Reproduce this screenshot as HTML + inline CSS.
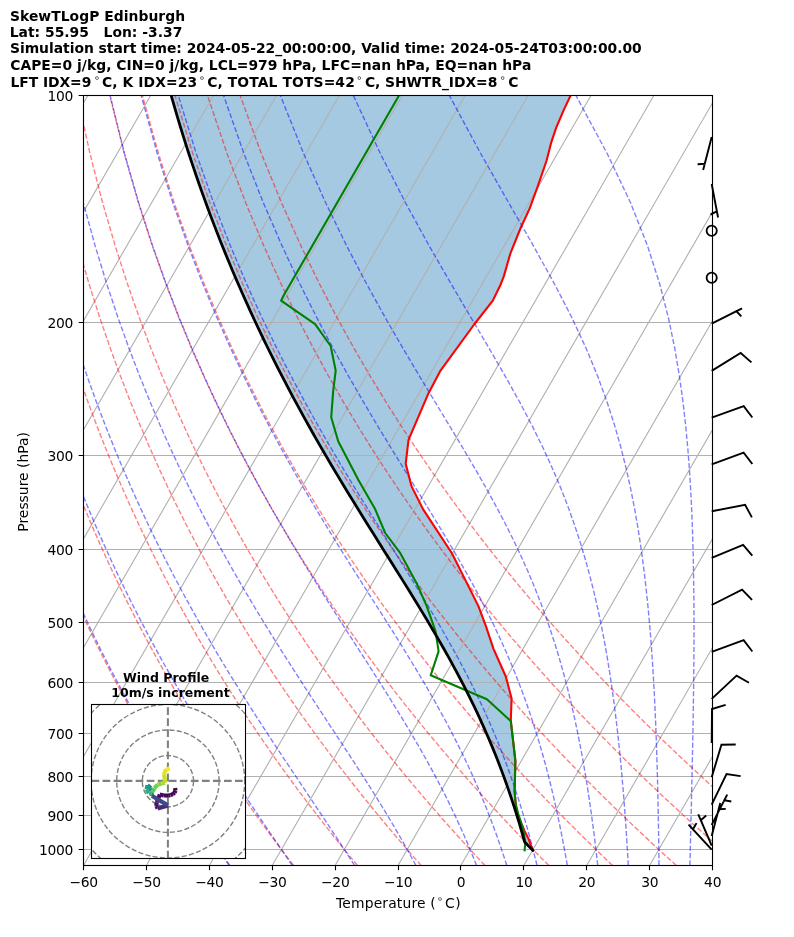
<!DOCTYPE html>
<html><head><meta charset="utf-8"><title>SkewTLogP Edinburgh</title>
<style>html,body{margin:0;padding:0;background:#fff}svg{display:block}</style></head>
<body>
<svg width="794" height="937" viewBox="0 0 794 937" style="display:block">
<defs><clipPath id="ax"><rect x="83.5" y="95.5" width="629.0" height="770.0"/></clipPath>
<clipPath id="hd"><rect x="91.5" y="704.5" width="154.0" height="154.0"/></clipPath></defs>
<rect width="794" height="937" fill="#fff"/>
<g clip-path="url(#ax)" fill="none">
<path d="M166.6 78.7 L169.23 88.37 L171.93 98.03 L174.7 107.69 L177.54 117.35 L180.45 127.01 L183.43 136.68 L186.49 146.34 L189.61 156 L192.82 165.66 L196.09 175.32 L199.44 184.98 L202.87 194.65 L206.37 204.31 L209.95 213.97 L213.61 223.63 L217.34 233.29 L221.16 242.96 L225.05 252.62 L229.02 262.28 L233.08 271.94 L237.21 281.6 L241.43 291.27 L245.72 300.93 L250.1 310.59 L254.57 320.25 L259.11 329.91 L263.74 339.58 L268.46 349.24 L273.26 358.9 L278.14 368.56 L283.11 378.22 L288.16 387.89 L293.29 397.55 L298.51 407.21 L303.8 416.87 L309.18 426.53 L314.64 436.2 L320.17 445.86 L325.78 455.52 L331.46 465.18 L337.21 474.84 L343.02 484.51 L348.89 494.17 L354.81 503.83 L360.78 513.49 L366.79 523.15 L372.83 532.82 L378.89 542.48 L384.97 552.14 L391.05 561.8 L397.11 571.46 L403.16 581.13 L409.17 590.79 L415.13 600.45 L421.04 610.11 L426.87 619.77 L432.62 629.44 L438.27 639.1 L443.81 648.76 L449.23 658.42 L454.53 668.08 L459.69 677.75 L464.7 687.41 L469.57 697.07 L474.29 706.73 L478.86 716.39 L483.27 726.06 L487.52 735.72 L491.62 745.38 L495.56 755.04 L499.35 764.7 L502.99 774.37 L506.49 784.03 L509.85 793.69 L513.06 803.35 L516.15 813.01 L519.1 822.68 L521.93 832.34 L524.64 842 L532.8 850.4 L532.8 850.4 L528.8 839.4 L524.4 830.6 L516.4 811.3 L514.6 791.1 L515.4 760.9 L510.8 720.6 L511.6 698.4 L505.8 676.5 L493.5 648.9 L485.9 626.2 L478.4 606.1 L465.8 580.9 L451.9 553.2 L423 509.1 L411.6 486.4 L405.7 463.8 L408.5 439.9 L427.9 394.6 L440.5 370.6 L474.5 324 L492.8 300.6 L500.4 285 L503.8 276.4 L510.3 253.7 L520.4 228.5 L529.7 208.4 L538 185.7 L546.6 160.5 L551.1 142.9 L556.2 127.7 L563.7 110.1 L570.8 95 L575.5 85Z" fill="#1f77b4" fill-opacity="0.4" stroke="none"/>
<path d="M-419.7 865.5 L24.86 95.5 M-356.8 865.5 L87.76 95.5 M-293.9 865.5 L150.66 95.5 M-231 865.5 L213.56 95.5 M-168.1 865.5 L276.46 95.5 M-105.2 865.5 L339.36 95.5 M-42.3 865.5 L402.26 95.5 M20.6 865.5 L465.16 95.5 M83.5 865.5 L528.06 95.5 M146.4 865.5 L590.96 95.5 M209.3 865.5 L653.86 95.5 M272.2 865.5 L716.76 95.5 M335.1 865.5 L779.66 95.5 M398 865.5 L842.56 95.5 M460.9 865.5 L905.46 95.5 M523.8 865.5 L968.36 95.5 M586.7 865.5 L1031.26 95.5 M649.6 865.5 L1094.16 95.5 M712.5 865.5 L1157.06 95.5" stroke="#b0b0b0" stroke-width="1.11"/>
<path d="M83.5 322.5 L712.5 322.5 M83.5 455.5 L712.5 455.5 M83.5 549.5 L712.5 549.5 M83.5 622.5 L712.5 622.5 M83.5 682.5 L712.5 682.5 M83.5 733.5 L712.5 733.5 M83.5 776.5 L712.5 776.5 M83.5 815.5 L712.5 815.5 M83.5 849.5 L712.5 849.5" stroke="#b0b0b0" stroke-width="1.11"/>
<path d="M229.89 865.5 L225.51 859.4 L221.1 853.18 L216.64 846.84 L212.15 840.37 L207.61 833.78 L203.02 827.05 L198.4 820.18 L193.72 813.16 L189 805.99 L184.23 798.65 L179.41 791.15 L174.54 783.48 L169.61 775.61 L164.63 767.56 L159.6 759.3 L154.51 750.83 L149.36 742.13 L144.15 733.2 L138.88 724.02 L133.54 714.57 L128.14 704.84 L122.67 694.81 L117.13 684.46 L111.51 673.78 L105.83 662.74 L100.06 651.31 L94.22 639.47 L88.3 627.18 L82.29 614.42 L76.19 601.14 L70.01 587.29 L63.73 572.84 L57.37 557.72 L50.9 541.86 L44.34 525.2 L37.68 507.64 L30.91 489.09 L24.05 469.43 L17.09 448.51 L10.04 426.16 L2.89 402.17 L-4.33 376.29 L-11.61 348.18 L-18.92 317.43 L-26.23 283.5 L-33.45 245.63 L-40.48 202.81 L-47.13 153.53 L-53.08 95.5 M293.67 865.5 L288.96 859.4 L284.2 853.18 L279.4 846.84 L274.55 840.37 L269.65 833.78 L264.7 827.05 L259.71 820.18 L254.66 813.16 L249.55 805.99 L244.4 798.65 L239.18 791.15 L233.91 783.48 L228.58 775.61 L223.19 767.56 L217.74 759.3 L212.22 750.83 L206.63 742.13 L200.98 733.2 L195.25 724.02 L189.45 714.57 L183.58 704.84 L177.63 694.81 L171.59 684.46 L165.47 673.78 L159.27 662.74 L152.97 651.31 L146.59 639.47 L140.11 627.18 L133.52 614.42 L126.84 601.14 L120.05 587.29 L113.14 572.84 L106.13 557.72 L98.99 541.86 L91.74 525.2 L84.35 507.64 L76.84 489.09 L69.2 469.43 L61.42 448.51 L53.51 426.16 L45.47 402.17 L37.29 376.29 L29 348.18 L20.62 317.43 L12.16 283.5 L3.69 245.63 L-4.7 202.81 L-12.86 153.53 L-20.5 95.5 M357.45 865.5 L352.4 859.4 L347.3 853.18 L342.15 846.84 L336.95 840.37 L331.69 833.78 L326.38 827.05 L321.02 820.18 L315.59 813.16 L310.11 805.99 L304.57 798.65 L298.96 791.15 L293.29 783.48 L287.56 775.61 L281.75 767.56 L275.88 759.3 L269.93 750.83 L263.91 742.13 L257.81 733.2 L251.63 724.02 L245.37 714.57 L239.02 704.84 L232.58 694.81 L226.05 684.46 L219.43 673.78 L212.71 662.74 L205.89 651.31 L198.95 639.47 L191.91 627.18 L184.76 614.42 L177.48 601.14 L170.08 587.29 L162.55 572.84 L154.89 557.72 L147.08 541.86 L139.13 525.2 L131.03 507.64 L122.77 489.09 L114.35 469.43 L105.75 448.51 L96.98 426.16 L88.04 402.17 L78.92 376.29 L69.62 348.18 L60.16 317.43 L50.55 283.5 L40.83 245.63 L31.07 202.81 L21.41 153.53 L12.08 95.5 M421.24 865.5 L415.85 859.4 L410.4 853.18 L404.9 846.84 L399.35 840.37 L393.73 833.78 L388.06 827.05 L382.33 820.18 L376.53 813.16 L370.67 805.99 L364.74 798.65 L358.74 791.15 L352.67 783.48 L346.53 775.61 L340.31 767.56 L334.02 759.3 L327.64 750.83 L321.18 742.13 L314.64 733.2 L308 724.02 L301.28 714.57 L294.46 704.84 L287.54 694.81 L280.52 684.46 L273.39 673.78 L266.15 662.74 L258.8 651.31 L251.32 639.47 L243.72 627.18 L235.99 614.42 L228.13 601.14 L220.12 587.29 L211.96 572.84 L203.65 557.72 L195.18 541.86 L186.53 525.2 L177.71 507.64 L168.7 489.09 L159.49 469.43 L150.08 448.51 L140.46 426.16 L130.61 402.17 L120.54 376.29 L110.23 348.18 L99.69 317.43 L88.93 283.5 L77.97 245.63 L66.85 202.81 L55.68 153.53 L44.66 95.5 M485.02 865.5 L479.29 859.4 L473.5 853.18 L467.66 846.84 L461.75 840.37 L455.78 833.78 L449.74 827.05 L443.64 820.18 L437.46 813.16 L431.22 805.99 L424.91 798.65 L418.52 791.15 L412.05 783.48 L405.5 775.61 L398.87 767.56 L392.15 759.3 L385.35 750.83 L378.46 742.13 L371.47 733.2 L364.38 724.02 L357.19 714.57 L349.9 704.84 L342.5 694.81 L334.98 684.46 L327.35 673.78 L319.59 662.74 L311.71 651.31 L303.69 639.47 L295.53 627.18 L287.23 614.42 L278.77 601.14 L270.16 587.29 L261.37 572.84 L252.41 557.72 L243.27 541.86 L233.93 525.2 L224.39 507.64 L214.63 489.09 L204.64 469.43 L194.41 448.51 L183.93 426.16 L173.19 402.17 L162.16 376.29 L150.85 348.18 L139.23 317.43 L127.32 283.5 L115.11 245.63 L102.63 202.81 L89.95 153.53 L77.24 95.5 M548.8 865.5 L542.73 859.4 L536.6 853.18 L530.41 846.84 L524.15 840.37 L517.82 833.78 L511.42 827.05 L504.95 820.18 L498.4 813.16 L491.78 805.99 L485.08 798.65 L478.29 791.15 L471.43 783.48 L464.47 775.61 L457.43 767.56 L450.29 759.3 L443.06 750.83 L435.73 742.13 L428.3 733.2 L420.76 724.02 L413.11 714.57 L405.34 704.84 L397.45 694.81 L389.45 684.46 L381.31 673.78 L373.03 662.74 L364.62 651.31 L356.06 639.47 L347.34 627.18 L338.46 614.42 L329.42 601.14 L320.19 587.29 L310.78 572.84 L301.17 557.72 L291.36 541.86 L281.33 525.2 L271.06 507.64 L260.55 489.09 L249.79 469.43 L238.74 448.51 L227.41 426.16 L215.76 402.17 L203.79 376.29 L191.46 348.18 L178.77 317.43 L165.7 283.5 L152.24 245.63 L138.4 202.81 L124.22 153.53 L109.82 95.5 M612.58 865.5 L606.18 859.4 L599.7 853.18 L593.16 846.84 L586.55 840.37 L579.86 833.78 L573.1 827.05 L566.26 820.18 L559.34 813.16 L552.33 805.99 L545.24 798.65 L538.07 791.15 L530.8 783.48 L523.44 775.61 L515.99 767.56 L508.43 759.3 L500.77 750.83 L493 742.13 L485.13 733.2 L477.13 724.02 L469.02 714.57 L460.78 704.84 L452.41 694.81 L443.91 684.46 L435.26 673.78 L426.47 662.74 L417.53 651.31 L408.42 639.47 L399.15 627.18 L389.7 614.42 L380.06 601.14 L370.23 587.29 L360.19 572.84 L349.94 557.72 L339.45 541.86 L328.72 525.2 L317.74 507.64 L306.48 489.09 L294.93 469.43 L283.07 448.51 L270.88 426.16 L258.33 402.17 L245.41 376.29 L232.08 348.18 L218.31 317.43 L204.09 283.5 L189.38 245.63 L174.18 202.81 L158.49 153.53 L142.4 95.5 M676.37 865.5 L669.62 859.4 L662.8 853.18 L655.91 846.84 L648.95 840.37 L641.9 833.78 L634.77 827.05 L627.57 820.18 L620.27 813.16 L612.89 805.99 L605.41 798.65 L597.85 791.15 L590.18 783.48 L582.42 775.61 L574.55 767.56 L566.57 759.3 L558.48 750.83 L550.28 742.13 L541.96 733.2 L533.51 724.02 L524.93 714.57 L516.22 704.84 L507.37 694.81 L498.37 684.46 L489.22 673.78 L479.91 662.74 L470.44 651.31 L460.79 639.47 L450.96 627.18 L440.93 614.42 L430.71 601.14 L420.27 587.29 L409.6 572.84 L398.7 557.72 L387.54 541.86 L376.12 525.2 L364.42 507.64 L352.41 489.09 L340.08 469.43 L327.4 448.51 L314.35 426.16 L300.91 402.17 L287.03 376.29 L272.69 348.18 L257.85 317.43 L242.48 283.5 L226.52 245.63 L209.96 202.81 L192.76 153.53 L174.98 95.5 M740.15 865.5 L733.07 859.4 L725.91 853.18 L718.67 846.84 L711.35 840.37 L703.94 833.78 L696.45 827.05 L688.88 820.18 L681.21 813.16 L673.44 805.99 L665.58 798.65 L657.62 791.15 L649.56 783.48 L641.39 775.61 L633.11 767.56 L624.71 759.3 L616.19 750.83 L607.55 742.13 L598.79 733.2 L589.88 724.02 L580.84 714.57 L571.66 704.84 L562.33 694.81 L552.84 684.46 L543.18 673.78 L533.36 662.74 L523.35 651.31 L513.16 639.47 L502.77 627.18 L492.17 614.42 L481.35 601.14 L470.3 587.29 L459.01 572.84 L447.46 557.72 L435.64 541.86 L423.52 525.2 L411.09 507.64 L398.34 489.09 L385.23 469.43 L371.73 448.51 L357.83 426.16 L343.48 402.17 L328.65 376.29 L313.31 348.18 L297.39 317.43 L280.86 283.5 L263.66 245.63 L245.73 202.81 L227.03 153.53 L207.55 95.5 M803.93 865.5 L796.51 859.4 L789.01 853.18 L781.42 846.84 L773.75 840.37 L765.98 833.78 L758.13 827.05 L750.19 820.18 L742.14 813.16 L734 805.99 L725.75 798.65 L717.4 791.15 L708.94 783.48 L700.36 775.61 L691.66 767.56 L682.85 759.3 L673.9 750.83 L664.83 742.13 L655.61 733.2 L646.26 724.02 L636.76 714.57 L627.1 704.84 L617.28 694.81 L607.3 684.46 L597.14 673.78 L586.8 662.74 L576.26 651.31 L565.52 639.47 L554.57 627.18 L543.4 614.42 L531.99 601.14 L520.34 587.29 L508.42 572.84 L496.22 557.72 L483.73 541.86 L470.92 525.2 L457.77 507.64 L444.27 489.09 L430.37 469.43 L416.06 448.51 L401.3 426.16 L386.06 402.17 L370.28 376.29 L353.92 348.18 L336.93 317.43 L319.25 283.5 L300.8 245.63 L281.51 202.81 L261.31 153.53 L240.13 95.5" stroke="#ff0000" stroke-opacity="0.5" stroke-width="1.39" stroke-dasharray="5.14 2.22"/>
<path d="M229.32 865.5 L225.18 859.4 L220.98 853.18 L216.72 846.84 L212.41 840.37 L208.03 833.78 L203.6 827.05 L199.1 820.18 L194.55 813.16 L189.94 805.99 L185.26 798.65 L180.53 791.15 L175.73 783.48 L170.87 775.61 L165.94 767.56 L160.96 759.3 L155.9 750.83 L150.79 742.13 L145.6 733.2 L140.35 724.02 L135.03 714.57 L129.64 704.84 L124.17 694.81 L118.63 684.46 L113.02 673.78 L107.33 662.74 L101.56 651.31 L95.71 639.47 L89.77 627.18 L83.75 614.42 L77.64 601.14 L71.45 587.29 L65.15 572.84 L58.77 557.72 L52.29 541.86 L45.7 525.2 L39.02 507.64 L32.24 489.09 L25.35 469.43 L18.37 448.51 L11.29 426.16 L4.12 402.17 L-3.13 376.29 L-10.44 348.18 L-17.78 317.43 L-25.12 283.5 L-32.38 245.63 L-39.45 202.81 L-46.14 153.53 L-52.14 95.5 M292.3 865.5 L288.15 859.4 L283.91 853.18 L279.6 846.84 L275.2 840.37 L270.71 833.78 L266.15 827.05 L261.5 820.18 L256.77 813.16 L251.96 805.99 L247.06 798.65 L242.08 791.15 L237.02 783.48 L231.87 775.61 L226.64 767.56 L221.32 759.3 L215.92 750.83 L210.43 742.13 L204.86 733.2 L199.2 724.02 L193.45 714.57 L187.61 704.84 L181.69 694.81 L175.67 684.46 L169.56 673.78 L163.35 662.74 L157.04 651.31 L150.64 639.47 L144.13 627.18 L137.52 614.42 L130.8 601.14 L123.97 587.29 L117.03 572.84 L109.97 557.72 L102.78 541.86 L95.47 525.2 L88.04 507.64 L80.47 489.09 L72.76 469.43 L64.92 448.51 L56.94 426.16 L48.83 402.17 L40.58 376.29 L32.21 348.18 L23.74 317.43 L15.19 283.5 L6.62 245.63 L-1.88 202.81 L-10.16 153.53 L-17.93 95.5 M354.57 865.5 L350.68 859.4 L346.69 853.18 L342.58 846.84 L338.37 840.37 L334.05 833.78 L329.61 827.05 L325.05 820.18 L320.38 813.16 L315.59 805.99 L310.69 798.65 L305.67 791.15 L300.53 783.48 L295.27 775.61 L289.89 767.56 L284.39 759.3 L278.77 750.83 L273.03 742.13 L267.18 733.2 L261.2 724.02 L255.1 714.57 L248.89 704.84 L242.55 694.81 L236.09 684.46 L229.51 673.78 L222.81 662.74 L215.98 651.31 L209.03 639.47 L201.94 627.18 L194.73 614.42 L187.38 601.14 L179.9 587.29 L172.27 572.84 L164.5 557.72 L156.58 541.86 L148.5 525.2 L140.26 507.64 L131.86 489.09 L123.28 469.43 L114.53 448.51 L105.59 426.16 L96.47 402.17 L87.16 376.29 L77.66 348.18 L67.99 317.43 L58.15 283.5 L48.18 245.63 L38.16 202.81 L28.2 153.53 L18.53 95.5 M415.94 865.5 L412.65 859.4 L409.25 853.18 L405.72 846.84 L402.07 840.37 L398.28 833.78 L394.35 827.05 L390.29 820.18 L386.07 813.16 L381.7 805.99 L377.19 798.65 L372.51 791.15 L367.67 783.48 L362.66 775.61 L357.49 767.56 L352.15 759.3 L346.63 750.83 L340.94 742.13 L335.08 733.2 L329.04 724.02 L322.83 714.57 L316.44 704.84 L309.87 694.81 L303.12 684.46 L296.2 673.78 L289.1 662.74 L281.83 651.31 L274.38 639.47 L266.76 627.18 L258.95 614.42 L250.97 601.14 L242.81 587.29 L234.46 572.84 L225.93 557.72 L217.21 541.86 L208.29 525.2 L199.16 507.64 L189.83 489.09 L180.28 469.43 L170.5 448.51 L160.49 426.16 L150.24 402.17 L139.73 376.29 L128.96 348.18 L117.92 317.43 L106.63 283.5 L95.09 245.63 L83.34 202.81 L71.48 153.53 L59.68 95.5 M476.59 865.5 L474.17 859.4 L471.64 853.18 L469 846.84 L466.24 840.37 L463.37 833.78 L460.36 827.05 L457.21 820.18 L453.92 813.16 L450.47 805.99 L446.87 798.65 L443.09 791.15 L439.13 783.48 L434.98 775.61 L430.64 767.56 L426.08 759.3 L421.31 750.83 L416.31 742.13 L411.08 733.2 L405.6 724.02 L399.87 714.57 L393.88 704.84 L387.63 694.81 L381.11 684.46 L374.31 673.78 L367.24 662.74 L359.89 651.31 L352.26 639.47 L344.35 627.18 L336.17 614.42 L327.7 601.14 L318.96 587.29 L309.95 572.84 L300.65 557.72 L291.09 541.86 L281.25 525.2 L271.13 507.64 L260.72 489.09 L250.03 469.43 L239.03 448.51 L227.72 426.16 L216.09 402.17 L204.13 376.29 L191.8 348.18 L179.11 317.43 L166.03 283.5 L152.56 245.63 L138.71 202.81 L124.51 153.53 L110.1 95.5 M506.8 865.5 L504.84 859.4 L502.8 853.18 L500.66 846.84 L498.43 840.37 L496.09 833.78 L493.63 827.05 L491.06 820.18 L488.35 813.16 L485.51 805.99 L482.53 798.65 L479.39 791.15 L476.08 783.48 L472.59 775.61 L468.91 767.56 L465.04 759.3 L460.94 750.83 L456.62 742.13 L452.05 733.2 L447.23 724.02 L442.13 714.57 L436.75 704.84 L431.07 694.81 L425.08 684.46 L418.76 673.78 L412.1 662.74 L405.1 651.31 L397.75 639.47 L390.03 627.18 L381.95 614.42 L373.5 601.14 L364.69 587.29 L355.52 572.84 L345.98 557.72 L336.08 541.86 L325.82 525.2 L315.2 507.64 L304.23 489.09 L292.9 469.43 L281.21 448.51 L269.14 426.16 L256.69 402.17 L243.84 376.29 L230.57 348.18 L216.85 317.43 L202.68 283.5 L188.02 245.63 L172.87 202.81 L157.24 153.53 L141.2 95.5 M537.03 865.5 L535.53 859.4 L533.96 853.18 L532.33 846.84 L530.61 840.37 L528.81 833.78 L526.92 827.05 L524.94 820.18 L522.85 813.16 L520.65 805.99 L518.33 798.65 L515.88 791.15 L513.3 783.48 L510.56 775.61 L507.66 767.56 L504.59 759.3 L501.32 750.83 L497.86 742.13 L494.17 733.2 L490.24 724.02 L486.05 714.57 L481.58 704.84 L476.82 694.81 L471.73 684.46 L466.29 673.78 L460.49 662.74 L454.29 651.31 L447.68 639.47 L440.63 627.18 L433.13 614.42 L425.16 601.14 L416.7 587.29 L407.75 572.84 L398.3 557.72 L388.35 541.86 L377.9 525.2 L366.95 507.64 L355.52 489.09 L343.6 469.43 L331.21 448.51 L318.33 426.16 L304.97 402.17 L291.11 376.29 L276.73 348.18 L261.82 317.43 L246.35 283.5 L230.28 245.63 L213.58 202.81 L196.23 153.53 L178.28 95.5 M567.33 865.5 L566.26 859.4 L565.14 853.18 L563.98 846.84 L562.75 840.37 L561.47 833.78 L560.12 827.05 L558.7 820.18 L557.2 813.16 L555.62 805.99 L553.96 798.65 L552.2 791.15 L550.33 783.48 L548.35 775.61 L546.25 767.56 L544.02 759.3 L541.64 750.83 L539.1 742.13 L536.38 733.2 L533.47 724.02 L530.35 714.57 L527 704.84 L523.39 694.81 L519.5 684.46 L515.31 673.78 L510.77 662.74 L505.86 651.31 L500.54 639.47 L494.77 627.18 L488.51 614.42 L481.72 601.14 L474.36 587.29 L466.4 572.84 L457.78 557.72 L448.49 541.86 L438.5 525.2 L427.79 507.64 L416.36 489.09 L404.22 469.43 L391.36 448.51 L377.8 426.16 L363.56 402.17 L348.63 376.29 L333.02 348.18 L316.72 317.43 L299.7 283.5 L281.92 245.63 L263.34 202.81 L243.91 153.53 L223.6 95.5 M597.75 865.5 L597.07 859.4 L596.35 853.18 L595.61 846.84 L594.82 840.37 L594 833.78 L593.13 827.05 L592.22 820.18 L591.26 813.16 L590.24 805.99 L589.17 798.65 L588.04 791.15 L586.83 783.48 L585.55 775.61 L584.19 767.56 L582.74 759.3 L581.18 750.83 L579.52 742.13 L577.74 733.2 L575.83 724.02 L573.77 714.57 L571.55 704.84 L569.14 694.81 L566.53 684.46 L563.7 673.78 L560.61 662.74 L557.23 651.31 L553.53 639.47 L549.47 627.18 L544.99 614.42 L540.05 601.14 L534.58 587.29 L528.53 572.84 L521.8 557.72 L514.34 541.86 L506.05 525.2 L496.86 507.64 L486.68 489.09 L475.47 469.43 L463.16 448.51 L449.74 426.16 L435.21 402.17 L419.59 376.29 L402.89 348.18 L385.15 317.43 L366.37 283.5 L346.56 245.63 L325.68 202.81 L303.65 153.53 L280.39 95.5 M628.31 865.5 L627.96 859.4 L627.6 853.18 L627.21 846.84 L626.8 840.37 L626.38 833.78 L625.93 827.05 L625.45 820.18 L624.95 813.16 L624.41 805.99 L623.85 798.65 L623.24 791.15 L622.6 783.48 L621.92 775.61 L621.19 767.56 L620.41 759.3 L619.57 750.83 L618.66 742.13 L617.69 733.2 L616.64 724.02 L615.51 714.57 L614.27 704.84 L612.93 694.81 L611.47 684.46 L609.87 673.78 L608.11 662.74 L606.17 651.31 L604.04 639.47 L601.67 627.18 L599.03 614.42 L596.09 601.14 L592.78 587.29 L589.06 572.84 L584.86 557.72 L580.07 541.86 L574.62 525.2 L568.37 507.64 L561.19 489.09 L552.91 469.43 L543.36 448.51 L532.36 426.16 L519.73 402.17 L505.32 376.29 L489.04 348.18 L470.87 317.43 L450.85 283.5 L429.06 245.63 L405.55 202.81 L380.34 153.53 L353.37 95.5 M659.02 865.5 L658.95 859.4 L658.87 853.18 L658.79 846.84 L658.7 840.37 L658.6 833.78 L658.49 827.05 L658.37 820.18 L658.24 813.16 L658.1 805.99 L657.95 798.65 L657.78 791.15 L657.6 783.48 L657.4 775.61 L657.18 767.56 L656.93 759.3 L656.67 750.83 L656.37 742.13 L656.05 733.2 L655.69 724.02 L655.29 714.57 L654.84 704.84 L654.35 694.81 L653.8 684.46 L653.18 673.78 L652.49 662.74 L651.72 651.31 L650.84 639.47 L649.85 627.18 L648.73 614.42 L647.45 601.14 L645.98 587.29 L644.3 572.84 L642.36 557.72 L640.11 541.86 L637.48 525.2 L634.39 507.64 L630.74 489.09 L626.39 469.43 L621.17 448.51 L614.85 426.16 L607.15 402.17 L597.7 376.29 L586.06 348.18 L571.75 317.43 L554.27 283.5 L533.3 245.63 L508.71 202.81 L480.67 153.53 L449.4 95.5 M689.88 865.5 L690.03 859.4 L690.18 853.18 L690.34 846.84 L690.5 840.37 L690.66 833.78 L690.83 827.05 L691 820.18 L691.16 813.16 L691.34 805.99 L691.51 798.65 L691.68 791.15 L691.86 783.48 L692.03 775.61 L692.21 767.56 L692.38 759.3 L692.56 750.83 L692.73 742.13 L692.9 733.2 L693.06 724.02 L693.22 714.57 L693.37 704.84 L693.51 694.81 L693.64 684.46 L693.76 673.78 L693.85 662.74 L693.93 651.31 L693.98 639.47 L693.99 627.18 L693.97 614.42 L693.89 601.14 L693.76 587.29 L693.55 572.84 L693.26 557.72 L692.85 541.86 L692.3 525.2 L691.58 507.64 L690.63 489.09 L689.4 469.43 L687.81 448.51 L685.73 426.16 L683.02 402.17 L679.46 376.29 L674.72 348.18 L668.32 317.43 L659.58 283.5 L647.47 245.63 L630.56 202.81 L607.17 153.53 L575.99 95.5 M720.86 865.5 L721.19 859.4 L721.53 853.18 L721.87 846.84 L722.23 840.37 L722.59 833.78 L722.97 827.05 L723.36 820.18 L723.76 813.16 L724.17 805.99 L724.59 798.65 L725.02 791.15 L725.47 783.48 L725.93 775.61 L726.4 767.56 L726.89 759.3 L727.39 750.83 L727.91 742.13 L728.44 733.2 L728.99 724.02 L729.56 714.57 L730.14 704.84 L730.74 694.81 L731.36 684.46 L732 673.78 L732.65 662.74 L733.33 651.31 L734.02 639.47 L734.73 627.18 L735.47 614.42 L736.22 601.14 L736.99 587.29 L737.77 572.84 L738.56 557.72 L739.36 541.86 L740.17 525.2 L740.97 507.64 L741.76 489.09 L742.52 469.43 L743.22 448.51 L743.85 426.16 L744.34 402.17 L744.64 376.29 L744.64 348.18 L744.18 317.43 L743 283.5 L740.67 245.63 L736.42 202.81 L728.82 153.53 L715.07 95.5 M751.95 865.5 L752.42 859.4 L752.89 853.18 L753.38 846.84 L753.89 840.37 L754.41 833.78 L754.94 827.05 L755.49 820.18 L756.06 813.16 L756.65 805.99 L757.26 798.65 L757.88 791.15 L758.53 783.48 L759.2 775.61 L759.89 767.56 L760.61 759.3 L761.35 750.83 L762.12 742.13 L762.91 733.2 L763.74 724.02 L764.59 714.57 L765.48 704.84 L766.41 694.81 L767.37 684.46 L768.37 673.78 L769.41 662.74 L770.5 651.31 L771.64 639.47 L772.82 627.18 L774.06 614.42 L775.36 601.14 L776.72 587.29 L778.15 572.84 L779.65 557.72 L781.23 541.86 L782.89 525.2 L784.64 507.64 L786.49 489.09 L788.45 469.43 L790.52 448.51 L792.71 426.16 L795.03 402.17 L797.49 376.29 L800.09 348.18 L802.82 317.43 L805.66 283.5 L808.57 245.63 L811.42 202.81 L813.94 153.53 L815.5 95.5 M783.15 865.5 L783.71 859.4 L784.28 853.18 L784.88 846.84 L785.49 840.37 L786.12 833.78 L786.77 827.05 L787.44 820.18 L788.13 813.16 L788.85 805.99 L789.59 798.65 L790.35 791.15 L791.14 783.48 L791.96 775.61 L792.8 767.56 L793.68 759.3 L794.59 750.83 L795.53 742.13 L796.51 733.2 L797.53 724.02 L798.59 714.57 L799.69 704.84 L800.84 694.81 L802.03 684.46 L803.28 673.78 L804.58 662.74 L805.95 651.31 L807.38 639.47 L808.88 627.18 L810.46 614.42 L812.11 601.14 L813.86 587.29 L815.7 572.84 L817.66 557.72 L819.72 541.86 L821.92 525.2 L824.26 507.64 L826.76 489.09 L829.44 469.43 L832.32 448.51 L835.42 426.16 L838.79 402.17 L842.45 376.29 L846.46 348.18 L850.88 317.43 L855.77 283.5 L861.24 245.63 L867.41 202.81 L874.44 153.53 L882.51 95.5" stroke="#0000ff" stroke-opacity="0.5" stroke-width="1.39" stroke-dasharray="5.14 2.22"/>
<path d="M575.5 85 L570.8 95 L563.7 110.1 L556.2 127.7 L551.1 142.9 L546.6 160.5 L538 185.7 L529.7 208.4 L520.4 228.5 L510.3 253.7 L503.8 276.4 L500.4 285 L492.8 300.6 L474.5 324 L440.5 370.6 L427.9 394.6 L408.5 439.9 L405.7 463.8 L411.6 486.4 L423 509.1 L451.9 553.2 L465.8 580.9 L478.4 606.1 L485.9 626.2 L493.5 648.9 L505.8 676.5 L511.6 698.4 L510.8 720.6 L515.4 760.9 L514.6 791.1 L516.4 811.3 L524.4 830.6 L528.8 839.4 L532.8 850.4" stroke="#ff0000" stroke-width="2.08" stroke-linejoin="round" stroke-linecap="square"/>
<path d="M405.1 85 L399.3 95 L283.9 295 L281.1 300.7 L315.1 324.1 L330.7 346 L335.7 370.7 L333.2 390.8 L331.2 417.3 L338.2 441.2 L358.4 480 L375.1 509.1 L385.2 533 L400.3 553.2 L416.7 583.4 L426.7 606.1 L435.6 631.3 L438.6 651.4 L430.7 675.3 L486.9 699.2 L510.8 721.1 L515.4 760.9 L514.6 791.1 L515.6 803.2 L518.2 813.8 L523.1 828.8 L525.3 842.9 L524.6 850.4" stroke="#008000" stroke-width="2.08" stroke-linejoin="round" stroke-linecap="square"/>
<path d="M166.6 78.7 L169.23 88.37 L171.93 98.03 L174.7 107.69 L177.54 117.35 L180.45 127.01 L183.43 136.68 L186.49 146.34 L189.61 156 L192.82 165.66 L196.09 175.32 L199.44 184.98 L202.87 194.65 L206.37 204.31 L209.95 213.97 L213.61 223.63 L217.34 233.29 L221.16 242.96 L225.05 252.62 L229.02 262.28 L233.08 271.94 L237.21 281.6 L241.43 291.27 L245.72 300.93 L250.1 310.59 L254.57 320.25 L259.11 329.91 L263.74 339.58 L268.46 349.24 L273.26 358.9 L278.14 368.56 L283.11 378.22 L288.16 387.89 L293.29 397.55 L298.51 407.21 L303.8 416.87 L309.18 426.53 L314.64 436.2 L320.17 445.86 L325.78 455.52 L331.46 465.18 L337.21 474.84 L343.02 484.51 L348.89 494.17 L354.81 503.83 L360.78 513.49 L366.79 523.15 L372.83 532.82 L378.89 542.48 L384.97 552.14 L391.05 561.8 L397.11 571.46 L403.16 581.13 L409.17 590.79 L415.13 600.45 L421.04 610.11 L426.87 619.77 L432.62 629.44 L438.27 639.1 L443.81 648.76 L449.23 658.42 L454.53 668.08 L459.69 677.75 L464.7 687.41 L469.57 697.07 L474.29 706.73 L478.86 716.39 L483.27 726.06 L487.52 735.72 L491.62 745.38 L495.56 755.04 L499.35 764.7 L502.99 774.37 L506.49 784.03 L509.85 793.69 L513.06 803.35 L516.15 813.01 L519.1 822.68 L521.93 832.34 L524.64 842 L532.8 850.4" stroke="#000" stroke-width="2.78" stroke-linejoin="round" stroke-linecap="square"/>
</g>
<rect x="83.5" y="95.5" width="629.0" height="770.0" fill="none" stroke="#000" stroke-width="1.11"/>
<path d="M83.5 865.5 v4.86 M146.5 865.5 v4.86 M209.5 865.5 v4.86 M272.5 865.5 v4.86 M335.5 865.5 v4.86 M398.5 865.5 v4.86 M460.5 865.5 v4.86 M523.5 865.5 v4.86 M586.5 865.5 v4.86 M649.5 865.5 v4.86 M712.5 865.5 v4.86 M83.5 95.5 h-4.86 M83.5 322.5 h-4.86 M83.5 455.5 h-4.86 M83.5 549.5 h-4.86 M83.5 622.5 h-4.86 M83.5 682.5 h-4.86 M83.5 733.5 h-4.86 M83.5 776.5 h-4.86 M83.5 815.5 h-4.86 M83.5 849.5 h-4.86" stroke="#000" stroke-width="1.11" fill="none"/>
<g font-family="'DejaVu Sans', 'Liberation Sans', sans-serif" font-size="13.89" fill="#000">
<text x="83.65" y="886.9" text-anchor="middle" letter-spacing="-0.3">−60</text>
<text x="146.55" y="886.9" text-anchor="middle" letter-spacing="-0.3">−50</text>
<text x="209.45" y="886.9" text-anchor="middle" letter-spacing="-0.3">−40</text>
<text x="272.35" y="886.9" text-anchor="middle" letter-spacing="-0.3">−30</text>
<text x="335.25" y="886.9" text-anchor="middle" letter-spacing="-0.3">−20</text>
<text x="398.15" y="886.9" text-anchor="middle" letter-spacing="-0.3">−10</text>
<text x="461.05" y="886.9" text-anchor="middle" letter-spacing="-0.3">0</text>
<text x="523.95" y="886.9" text-anchor="middle" letter-spacing="-0.3">10</text>
<text x="586.85" y="886.9" text-anchor="middle" letter-spacing="-0.3">20</text>
<text x="649.75" y="886.9" text-anchor="middle" letter-spacing="-0.3">30</text>
<text x="712.65" y="886.9" text-anchor="middle" letter-spacing="-0.3">40</text>
<text x="73.1" y="101.1" text-anchor="end" letter-spacing="-0.3">100</text>
<text x="73.1" y="328.1" text-anchor="end" letter-spacing="-0.3">200</text>
<text x="73.1" y="461.1" text-anchor="end" letter-spacing="-0.3">300</text>
<text x="73.1" y="555.1" text-anchor="end" letter-spacing="-0.3">400</text>
<text x="73.1" y="628.1" text-anchor="end" letter-spacing="-0.3">500</text>
<text x="73.1" y="688.1" text-anchor="end" letter-spacing="-0.3">600</text>
<text x="73.1" y="739.1" text-anchor="end" letter-spacing="-0.3">700</text>
<text x="73.1" y="782.1" text-anchor="end" letter-spacing="-0.3">800</text>
<text x="73.1" y="821.1" text-anchor="end" letter-spacing="-0.3">900</text>
<text x="73.1" y="855.1" text-anchor="end" letter-spacing="-0.3">1000</text>
<text x="336.05" y="907.7" font-weight="normal" font-size="13.89" letter-spacing="0.158" xml:space="preserve">Temperature (</text>
<text x="444.89" y="907.7" font-weight="normal" font-size="13.89" letter-spacing="0.647" xml:space="preserve">C)</text>
<text x="436.96" y="901.77" font-weight="normal" font-size="9.72">∘</text>
<text transform="translate(28.25 481.9) rotate(-90)" text-anchor="middle">Pressure (hPa)</text>
</g>
<g font-family="'DejaVu Sans', 'Liberation Sans', sans-serif" font-size="13.89" font-weight="bold" fill="#000">
<text x="9.96" y="20.7" font-weight="bold" font-size="13.89" letter-spacing="0.042" xml:space="preserve">SkewTLogP Edinburgh</text>
<text x="9.64" y="37.0" font-weight="bold" font-size="13.89" letter-spacing="0.025" xml:space="preserve">Lat: 55.95   Lon: -3.37</text>
<text x="9.96" y="53.4" font-weight="bold" font-size="13.89" letter-spacing="-0.015" xml:space="preserve">Simulation start time: 2024-05-22_00:00:00, Valid time: 2024-05-24T03:00:00.00</text>
<text x="10.19" y="69.8" font-weight="bold" font-size="13.89" letter-spacing="0.028" xml:space="preserve">CAPE=0 j/kg, CIN=0 j/kg, LCL=979 hPa, LFC=nan hPa, EQ=nan hPa</text>
<text x="10.51" y="87.2" font-weight="bold" font-size="13.89" letter-spacing="-0.053" xml:space="preserve">LFT IDX=9</text>
<text x="101.90" y="87.2" font-weight="bold" font-size="13.89" letter-spacing="0.107" xml:space="preserve">C, K IDX=23</text>
<text x="207.16" y="87.2" font-weight="bold" font-size="13.89" letter-spacing="0.109" xml:space="preserve">C, TOTAL TOTS=42</text>
<text x="364.89" y="87.2" font-weight="bold" font-size="13.89" letter-spacing="-0.037" xml:space="preserve">C, SHWTR_IDX=8</text>
<text x="508.16" y="87.2" font-weight="bold" font-size="13.89" letter-spacing="0.000" xml:space="preserve">C</text>
<text x="94.00" y="81.00" font-weight="normal" font-size="9.72">∘</text>
<text x="199.00" y="81.00" font-weight="normal" font-size="9.72">∘</text>
<text x="356.30" y="81.00" font-weight="normal" font-size="9.72">∘</text>
<text x="499.80" y="81.00" font-weight="normal" font-size="9.72">∘</text>
</g>
<rect x="91.5" y="704.5" width="154.0" height="154.0" fill="#fff" stroke="none"/>
<g clip-path="url(#hd)" fill="none">
<path d="M193.5 781.15 A25.6 25.6 0 1 0 142.3 781.15 A25.6 25.6 0 1 0 193.5 781.15" stroke="#808080" stroke-width="1.39" stroke-dasharray="5.14 2.22"/>
<path d="M219.1 781.15 A51.2 51.2 0 1 0 116.7 781.15 A51.2 51.2 0 1 0 219.1 781.15" stroke="#808080" stroke-width="1.39" stroke-dasharray="5.14 2.22"/>
<path d="M244.7 781.15 A76.8 76.8 0 1 0 91.1 781.15 A76.8 76.8 0 1 0 244.7 781.15" stroke="#808080" stroke-width="1.39" stroke-dasharray="5.14 2.22"/>
<path d="M270.3 781.15 A102.4 102.4 0 1 0 65.5 781.15 A102.4 102.4 0 1 0 270.3 781.15" stroke="#808080" stroke-width="1.39" stroke-dasharray="5.14 2.22"/>
<path d="M91.5 780.9 H245.5 M167.9 858.5 V704.5" stroke="#808080" stroke-width="2.08" stroke-dasharray="7.71 3.33"/>
<path d="M175.1 788 L175.5 790.6" stroke="#440154" stroke-width="4.17" stroke-linecap="butt"/>
<path d="M175.5 790.6 L174.6 792.6" stroke="#440154" stroke-width="4.17" stroke-linecap="butt"/>
<path d="M174.6 792.6 L172.9 794.2" stroke="#440154" stroke-width="4.17" stroke-linecap="butt"/>
<path d="M172.9 794.2 L170.5 795.2" stroke="#440256" stroke-width="4.17" stroke-linecap="butt"/>
<path d="M170.5 795.2 L168.2 795.5" stroke="#450457" stroke-width="4.17" stroke-linecap="butt"/>
<path d="M168.2 795.5 L163.8 795.5" stroke="#450559" stroke-width="4.17" stroke-linecap="butt"/>
<path d="M163.8 795.5 L159.8 794.6" stroke="#46085c" stroke-width="4.17" stroke-linecap="butt"/>
<path d="M159.8 794.6 L158.5 797.9" stroke="#460b5e" stroke-width="4.17" stroke-linecap="butt"/>
<path d="M158.5 797.9 L156.7 802.3" stroke="#471063" stroke-width="4.17" stroke-linecap="butt"/>
<path d="M156.7 802.3 L156.3 805.9" stroke="#471365" stroke-width="4.17" stroke-linecap="butt"/>
<path d="M156.3 805.9 L157.6 808.5" stroke="#481769" stroke-width="4.17" stroke-linecap="butt"/>
<path d="M157.6 808.5 L168.2 805.6" stroke="#472a7a" stroke-width="4.17" stroke-linecap="butt"/>
<path d="M168.2 805.6 L151.9 795.7" stroke="#3e4989" stroke-width="4.17" stroke-linecap="butt"/>
<path d="M151.9 795.7 L151 788.2" stroke="#31678e" stroke-width="4.17" stroke-linecap="butt"/>
<path d="M151 788.2 L147.5 785.1" stroke="#228b8d" stroke-width="4.17" stroke-linecap="butt"/>
<path d="M147.5 785.1 L146.6 789.5" stroke="#1e9c89" stroke-width="4.17" stroke-linecap="butt"/>
<path d="M146.6 789.5 L148.8 793.1" stroke="#26ad81" stroke-width="4.17" stroke-linecap="butt"/>
<path d="M148.8 793.1 L151.9 792.6" stroke="#3bbb75" stroke-width="4.17" stroke-linecap="butt"/>
<path d="M151.9 792.6 L154.5 788.2" stroke="#58c765" stroke-width="4.17" stroke-linecap="butt"/>
<path d="M154.5 788.2 L157.5 784.7" stroke="#6ece58" stroke-width="4.17" stroke-linecap="butt"/>
<path d="M157.5 784.7 L161.5 783.4" stroke="#86d549" stroke-width="4.17" stroke-linecap="butt"/>
<path d="M161.5 783.4 L165 782.9" stroke="#a2da37" stroke-width="4.17" stroke-linecap="butt"/>
<path d="M165 782.9 L164.8 779.4" stroke="#bddf26" stroke-width="4.17" stroke-linecap="butt"/>
<path d="M164.8 779.4 L164.1 774.5" stroke="#cae11f" stroke-width="4.17" stroke-linecap="butt"/>
<path d="M164.1 774.5 L164.1 772.3" stroke="#d8e219" stroke-width="4.17" stroke-linecap="butt"/>
<path d="M164.1 772.3 L166.7 769.5" stroke="#e5e419" stroke-width="4.17" stroke-linecap="butt"/>
<path d="M166.7 769.5 L169.8 768.2" stroke="#fde725" stroke-width="4.17" stroke-linecap="butt"/>
</g>
<rect x="91.5" y="704.5" width="154.0" height="154.0" fill="none" stroke="#000" stroke-width="1.11"/>
<g font-family="'DejaVu Sans', 'Liberation Sans', sans-serif" font-size="12.5" font-weight="bold" fill="#000" text-anchor="middle">
<text x="166.1" y="682.3">Wind Profile</text>
<text x="170.5" y="697.0">10m/s increment</text>
</g>
<circle cx="711.7" cy="230.7" r="5.1" fill="none" stroke="#000" stroke-width="1.8"/>
<circle cx="711.7" cy="277.7" r="5.1" fill="none" stroke="#000" stroke-width="1.8"/>
<path d="M711.7 137.1 L703.14 170.04 L704.75 163.87 L697.62 164.21 L704.75 163.87Z M711.7 184.1 L718.06 217.53 L716.87 211.27 L710.58 214.63 L716.87 211.27Z M711.7 323.7 L742.06 308.33 L736.37 311.21 L741.34 316.32 L736.37 311.21Z M711.7 370.9 L740.66 353.03 L751.42 362.38 L740.66 353.03Z M711.7 417.7 L743.71 406.15 L752.33 417.51 L743.71 406.15Z M711.7 464.4 L743.64 452.65 L752.33 463.96 L743.64 452.65Z M711.7 511.3 L745.1 504.79 L751.88 517.34 L745.1 504.79Z M711.7 557.9 L743.11 544.8 L752.27 555.73 L743.11 544.8Z M711.7 605 L742.08 589.66 L752.01 599.9 L742.08 589.66Z M711.7 651.9 L743.65 640.18 L752.33 651.49 L743.65 640.18Z M711.7 698.9 L736.57 675.68 L748.97 682.73 L736.57 675.68Z M711.7 743 L711.99 708.97 L725.64 704.84 L711.99 708.97Z M711.7 777.3 L721.45 744.7 L735.71 744.52 L721.45 744.7Z M711.7 804.7 L726.51 774.06 L740.61 776.16 L726.51 774.06Z M711.7 824.9 L727.19 794.6 L724.29 800.28 L731.32 801.48 L724.29 800.28Z M711.7 836 L720.26 803.06 L718.66 809.23 L725.78 808.89 L718.66 809.23Z M711.7 845.6 L698.27 814.33 L700.79 820.19 L706.2 815.55 L700.79 820.19Z M711.7 849.6 L688.62 824.59 L692.94 829.28 L696.5 823.1 L692.94 829.28Z" fill="#000" stroke="#000" stroke-width="1.9" stroke-linejoin="miter"/>
</svg>
</body></html>
